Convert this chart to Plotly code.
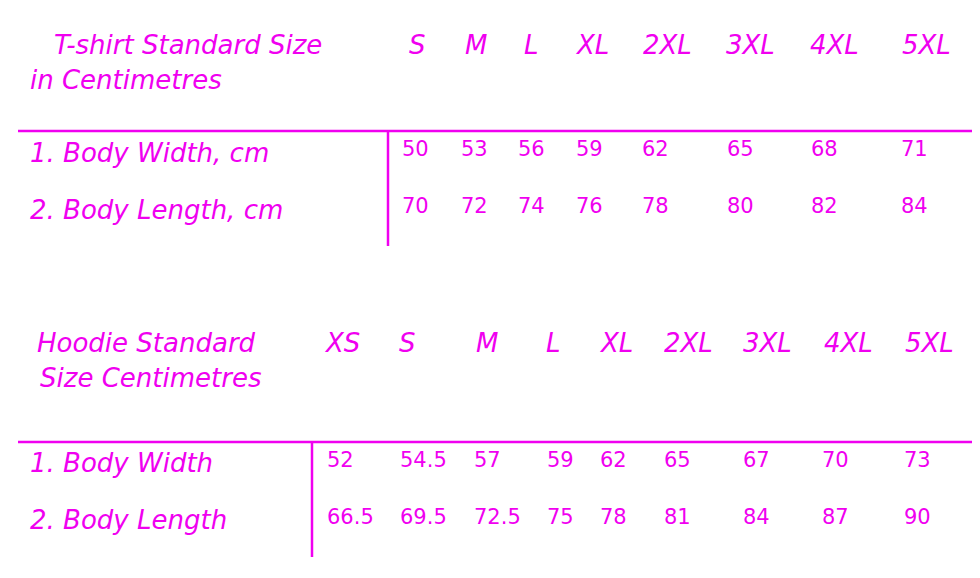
import plotly.graph_objects as go

# ---- data ----
tshirt_title = ["T-shirt Standard Size", "in Centimetres"]
tshirt_sizes = ["S", "M", "L", "XL", "2XL", "3XL", "4XL", "5XL"]
tshirt_rows = ["1. Body Width, cm", "2. Body Length, cm"]
tshirt_width = ["50", "53", "56", "59", "62", "65", "68", "71"]
tshirt_length = ["70", "72", "74", "76", "78", "80", "82", "84"]

hoodie_title = ["Hoodie Standard", "Size Centimetres"]
hoodie_sizes = ["XS", "S", "M", "L", "XL", "2XL", "3XL", "4XL", "5XL"]
hoodie_rows = ["1. Body Width", "2. Body Length"]
hoodie_width = ["52", "54.5", "57", "59", "62", "65", "67", "70", "73"]
hoodie_length = ["66.5", "69.5", "72.5", "75", "78", "81", "84", "87", "90"]

# ---- layout positions (pixels) ----
C = "#F000F0"
FONT = "DejaVu Sans"
ts_size_x = [417, 476, 531, 592, 667, 750, 834, 926]
ts_val_x = [400, 459, 516, 574, 640, 725, 809, 899]
hd_size_x = [342, 407, 487, 553, 616, 688, 767, 848, 929]
hd_val_x = [325, 398, 472, 545, 598, 662, 741, 820, 902]

ann = []
def txt(x, y, t, size, italic=True, anchor="left"):
    s = f"<i>{t}</i>" if italic else t
    ann.append(dict(x=x, y=y, text=s, showarrow=False, xanchor=anchor, yanchor="middle",
                    font=dict(family=FONT, size=size, color=C)))

# T-shirt
txt(52, 45, tshirt_title[0], 26)
txt(28, 80, tshirt_title[1], 26)
for s, x in zip(tshirt_sizes, ts_size_x):
    txt(x, 45, s, 26, anchor="center")
txt(28, 153, tshirt_rows[0], 26)
txt(28, 210, tshirt_rows[1], 26)
for v, x in zip(tshirt_width, ts_val_x):
    txt(x, 149, v, 21, italic=False)
for v, x in zip(tshirt_length, ts_val_x):
    txt(x, 206, v, 21, italic=False)

# Hoodie
txt(35, 343, hoodie_title[0], 26)
txt(38, 378, hoodie_title[1], 26)
for s, x in zip(hoodie_sizes, hd_size_x):
    txt(x, 343, s, 26, anchor="center")
txt(28, 463, hoodie_rows[0], 26)
txt(28, 520, hoodie_rows[1], 26)
for v, x in zip(hoodie_width, hd_val_x):
    txt(x, 460, v, 21, italic=False)
for v, x in zip(hoodie_length, hd_val_x):
    txt(x, 517, v, 21, italic=False)

line = dict(color=C, width=2.5)
shapes = [
    dict(type="line", x0=18, x1=990, y0=131, y1=131, line=line),
    dict(type="line", x0=388, x1=388, y0=131, y1=246, line=line),
    dict(type="line", x0=18, x1=990, y0=442, y1=442, line=line),
    dict(type="line", x0=312, x1=312, y0=442, y1=557, line=line),
]

fig = go.Figure()
fig.update_layout(
    width=980, height=578, margin=dict(l=0, r=0, t=0, b=0),
    paper_bgcolor="white", plot_bgcolor="white",
    xaxis=dict(range=[8, 988], visible=False, fixedrange=True),
    yaxis=dict(range=[586, 8], visible=False, fixedrange=True),
    annotations=ann, shapes=shapes, showlegend=False,
)
fig.write_html("out.html")
